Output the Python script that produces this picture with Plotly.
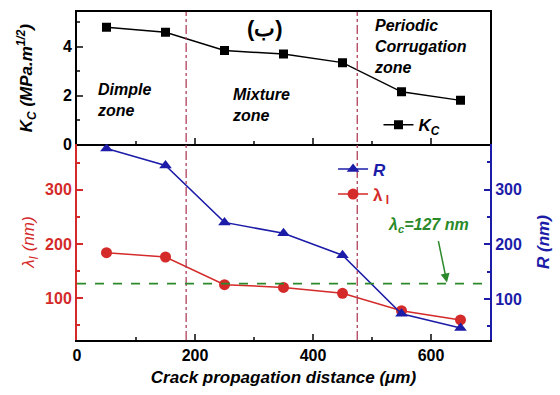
import plotly.graph_objects as go

x_dist = [50, 150, 250, 350, 450, 550, 650]
kc_vals = [4.8, 4.6, 3.85, 3.7, 3.35, 2.15, 1.8]
lambda_vals = [184, 176, 125, 120, 109, 77, 60]
r_vals = [375, 344, 240, 220, 180, 73, 47]
lambda_c = 127
zone_bounds = [185, 475]

RED = "#d42a2a"
BLUE = "#1c1ca8"
GREEN = "#2a8a2a"
VLINE = "#b0405a"
FONT = "Liberation Sans, Arial, sans-serif"

fig = go.Figure()
fig.add_trace(go.Scatter(x=x_dist, y=kc_vals, mode="lines+markers",
                         name="<i><b>K<sub>C</sub></b></i>",
                         line=dict(color="black", width=1.5),
                         marker=dict(symbol="square", size=9, color="black"),
                         xaxis="x", yaxis="y", legend="legend"))
fig.add_trace(go.Scatter(x=x_dist, y=r_vals, mode="lines+markers",
                         name="<span style='color:%s'><i><b>R</b></i></span>" % BLUE,
                         line=dict(color=BLUE, width=1.5),
                         marker=dict(symbol="triangle-up", size=11, color=BLUE),
                         xaxis="x2", yaxis="y3", legend="legend2"))
fig.add_trace(go.Scatter(x=x_dist, y=lambda_vals, mode="lines+markers",
                         name="<span style='color:%s'><b>λ<sub> I</sub></b></span>" % RED,
                         line=dict(color=RED, width=1.5),
                         marker=dict(symbol="circle", size=11, color=RED),
                         xaxis="x2", yaxis="y2", legend="legend2"))

split = 0.597
tickfont = dict(family=FONT, size=16, weight="bold")

fig.update_layout(
    width=560, height=395,
    margin=dict(l=77, r=70, t=10, b=55),
    plot_bgcolor="white", paper_bgcolor="white",
    font=dict(family=FONT),
    xaxis=dict(domain=[0, 1], anchor="y", range=[0, 700], showticklabels=False,
               ticks="inside", ticklen=6, tickwidth=1.5, dtick=200,
               minor=dict(ticks="inside", ticklen=3, dtick=100),
               showline=True, linecolor="black", linewidth=2, mirror=True,
               showgrid=False, zeroline=False),
    yaxis=dict(domain=[split, 1], anchor="x", range=[0, 5.43], dtick=2,
               ticks="inside", ticklen=6, tickwidth=1.5,
               minor=dict(ticks="inside", ticklen=3, dtick=1),
               tickfont=dict(tickfont, color="black"),
               showline=True, linecolor="black", linewidth=2, mirror=True,
               showgrid=False, zeroline=False,
               title=dict(text="<i><b>K<sub>C</sub> (MPa.m<sup>1/2</sup>)</b></i>",
                          font=dict(family=FONT, size=17, color="black"), standoff=26)),
    xaxis2=dict(domain=[0, 1], anchor="y2", range=[0, 700], dtick=200,
                ticks="inside", ticklen=6, tickwidth=1.5,
                minor=dict(ticks="inside", ticklen=3, dtick=100),
                tickfont=dict(tickfont, color="black"),
                showline=True, linecolor="black", linewidth=2,
                showgrid=False, zeroline=False,
                title=dict(text="<i><b>Crack propagation distance (μm)</b></i>",
                           font=dict(family=FONT, size=17, color="black"), standoff=8)),
    yaxis2=dict(domain=[0, split], anchor="x2", range=[23, 384], dtick=100,
                ticks="inside", ticklen=6, tickwidth=1.5, tickcolor=RED,
                minor=dict(ticks="inside", ticklen=3, dtick=50, tickcolor=RED),
                tickfont=dict(tickfont, color=RED),
                showline=True, linecolor=RED, linewidth=2,
                showgrid=False, zeroline=False,
                title=dict(text="<i>λ<sub>I</sub> (nm)</i>",
                           font=dict(family=FONT, size=17, color=RED), standoff=6)),
    yaxis3=dict(overlaying="y2", side="right", anchor="x2", range=[25, 383], dtick=100,
                ticks="inside", ticklen=6, tickwidth=1.5, tickcolor=BLUE,
                minor=dict(ticks="inside", ticklen=3, dtick=50, tickcolor=BLUE),
                tickfont=dict(tickfont, color=BLUE),
                showline=True, linecolor=BLUE, linewidth=2,
                showgrid=False, zeroline=False,
                title=dict(text="<i><b>R (nm)</b></i>",
                           font=dict(family=FONT, size=17, color=BLUE), standoff=16)),
    legend=dict(x=0.73, y=0.655, xanchor="left", yanchor="middle",
                bgcolor="rgba(0,0,0,0)", font=dict(family=FONT, size=17, color="black"),
                itemwidth=30, tracegroupgap=0),
    legend2=dict(x=0.62, y=0.575, xanchor="left", yanchor="top",
                 bgcolor="rgba(0,0,0,0)", font=dict(family=FONT, size=17),
                 itemwidth=30, tracegroupgap=0),
    showlegend=True,
)

for xb in zone_bounds:
    fig.add_shape(type="line", xref="x2", yref="paper", x0=xb, x1=xb, y0=0, y1=1,
                  line=dict(color=VLINE, width=1.3, dash="dashdot"))

fig.add_shape(type="line", xref="x2", yref="y2", x0=0, x1=700, y0=lambda_c, y1=lambda_c,
              line=dict(color=GREEN, width=1.8, dash="dash"))

zone_font = dict(family=FONT, size=16, color="black")
fig.add_annotation(xref="x", yref="y", x=30, y=1.8, text="<i><b>Dimple<br>zone</b></i>",
                   showarrow=False, xanchor="left", align="left", font=zone_font)
fig.add_annotation(xref="x", yref="y", x=260, y=1.6, text="<i><b>Mixture<br>zone</b></i>",
                   showarrow=False, xanchor="left", align="left", font=zone_font)
fig.add_annotation(xref="x", yref="y", x=500, y=4.0, text="<i><b>Periodic<br>Corrugation<br>zone</b></i>",
                   showarrow=False, xanchor="left", align="left", font=zone_font)
fig.add_annotation(xref="x", yref="y", x=318, y=4.75, text="<b>(ب)</b>",
                   showarrow=False, font=dict(family=FONT, size=22, color="black"))

fig.add_annotation(xref="x2", yref="y2", x=627, y=lambda_c + 2,
                   ax=612, ay=208, axref="x2", ayref="y2",
                   text="", showarrow=True, arrowhead=2, arrowsize=1.2,
                   arrowwidth=1.5, arrowcolor=GREEN)
fig.add_annotation(xref="x2", yref="y2", x=595, y=212,
                   text="<i><b>λ<sub>c</sub>=127 nm</b></i>", showarrow=False,
                   yanchor="bottom", font=dict(family=FONT, size=16, color=GREEN))

fig.write_html("out.html")
